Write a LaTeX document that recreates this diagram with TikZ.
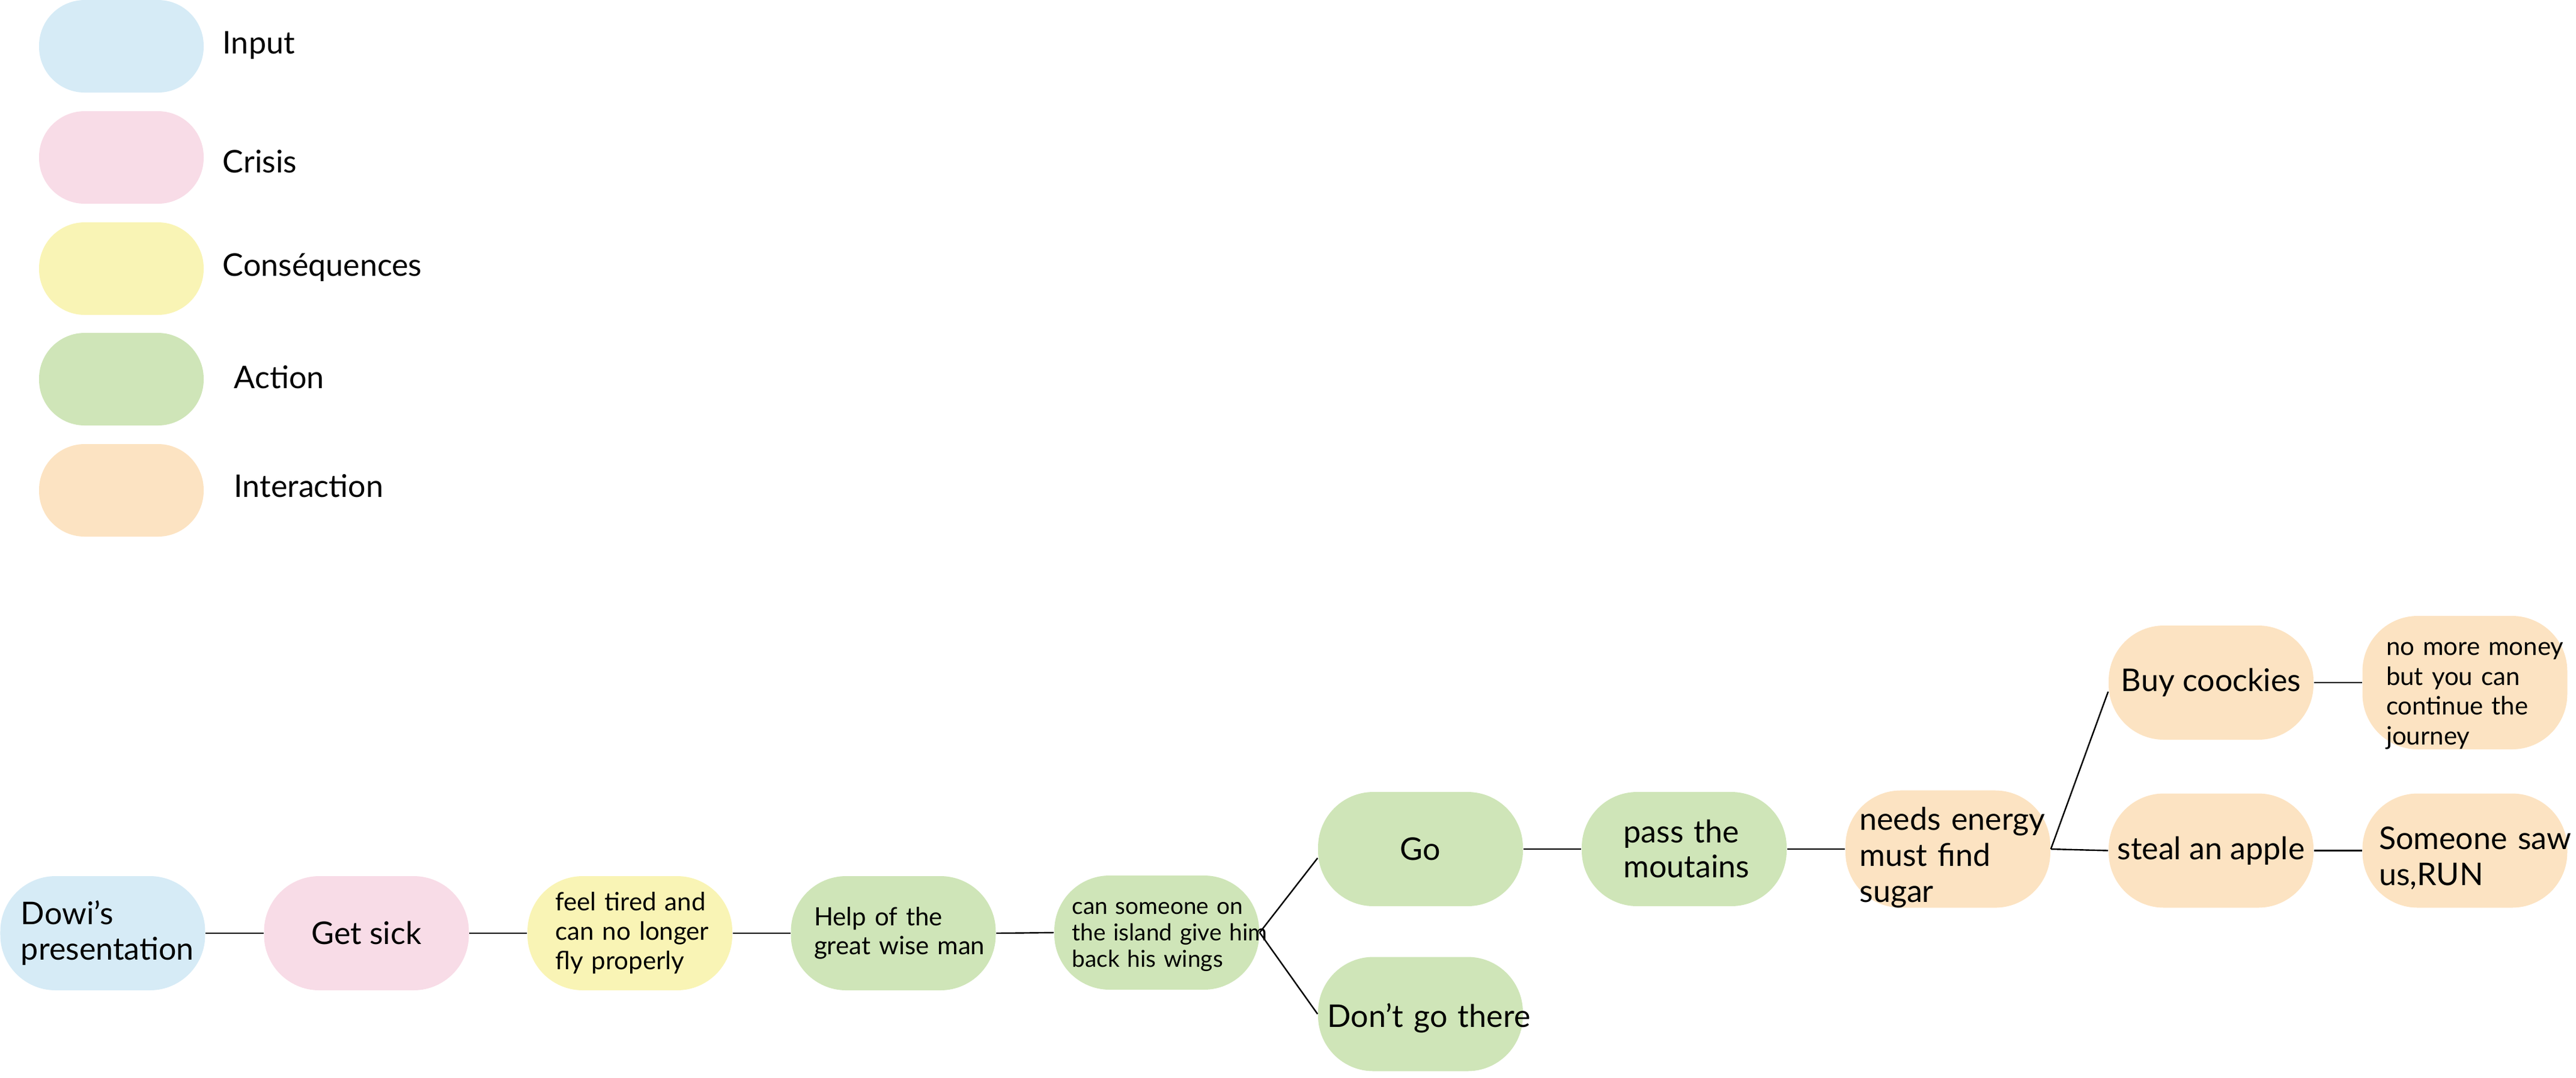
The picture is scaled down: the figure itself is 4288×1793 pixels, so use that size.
\documentclass[tikz,border=0pt]{standalone}
\usepackage{fontspec}
\setmainfont{Lato}
\definecolor{cin}{HTML}{D6EBF6}
\definecolor{ccr}{HTML}{F8DCE7}
\definecolor{ccs}{HTML}{F9F4B5}
\definecolor{cac}{HTML}{CFE5B8}
\definecolor{cit}{HTML}{FCE3C2}
\newcommand\fleg{\fontsize{13pt}{15pt}\selectfont}
\newcommand\fbig{\fontsize{13pt}{14.75pt}\selectfont}
\newcommand\fbigb{\fontsize{13pt}{14.5pt}\selectfont}
\newcommand\fbigc{\fontsize{13pt}{15pt}\selectfont}
\newcommand\fmed{\fontsize{10.5pt}{12.25pt}\selectfont}
\newcommand\fmedb{\fontsize{10.5pt}{12pt}\selectfont}
\newcommand\fmedc{\fontsize{10.5pt}{12.4pt}\selectfont}
\newcommand\fsml{\fontsize{9.7pt}{11pt}\selectfont}
\newcommand\mline[1]{\mbox{#1}}
\newcommand\pushdown[1]{\rule{0pt}{#1}}
\tikzset{
  legbox/.style={rectangle, rounded corners=19pt, minimum width=68.5pt, minimum height=38.5pt, inner sep=0pt},
  bx/.style={rectangle, rounded corners=23pt, minimum width=85.25pt, minimum height=47.5pt, inner sep=0pt, align=left},
  legtxt/.style={anchor=base west, font=\fleg, inner sep=0pt},
  link/.style={draw=black, line width=0.6pt},
}
\begin{document}
\begin{tikzpicture}[x=0.25pt,y=-0.25pt]
\useasboundingbox (0,0) rectangle (4288,1793);
% legend
\node[legbox, fill=cin] (lin) at (202,77) {};
\node[legbox, fill=ccr] (lcr) at (202,262) {};
\node[legbox, fill=ccs] (lcs) at (202,447) {};
\node[legbox, fill=cac] (lac) at (202,631) {};
\node[legbox, fill=cit] (lit) at (202,816) {};
\node[legtxt] (tin) at (370,89) {Input};
\node[legtxt] (tcr) at (370,287) {Crisis};
\node[legtxt] (tcs) at (370,459) {Conséquences};
\node[legtxt] (tac) at (389,646) {Action};
\node[legtxt] (tit) at (389,827) {Interaction};
% main row
\node[bx, fill=cin, font=\fbig, text width=68pt] (dowi) at (171,1553) {\mline{Dowi’s}\\\mline{presentation}};
\node[bx, fill=ccr, font=\fbig, align=center] (sick) at (610,1553) {Get sick};
\node[bx, fill=ccs, font=\fmed, text width=62pt] (feel) at (1048.5,1553) {\mline{feel tired and}\\\mline{can no longer}\\\mline{fly properly}};
\node[bx, fill=cac, font=\fmedb, text width=66pt] (help) at (1487,1553) {\mline{Help of the}\\\mline{great wise man}};
\node[bx, fill=cac, font=\fsml, text width=70.5pt] (cs) at (1925.5,1552) {\mline{\pushdown{8.3pt}can someone on}\\\mline{the island give him}\\\mline{back his wings}};
\node[bx, fill=cac, font=\fbig, align=center] (go) at (2364.5,1413) {Go};
\node[bx, fill=cac, font=\fbigb, text width=50.5pt] (pass) at (2803.5,1413) {\mline{pass the}\\\mline{moutains}};
\node[bx, fill=cit, font=\fbigc, text width=73.5pt] (needs) at (3242.5,1413) {\mline{\pushdown{16.4pt}needs energy}\\\mline{must find}\\\mline{sugar}};
\node[bx, fill=cac, font=\fbig, text width=77.5pt] (dont) at (2364.5,1687.5) {\mline{\pushdown{13.6pt}Don’t go there}};
\node[bx, fill=cit, font=\fbig, align=center] (buy) at (3680.5,1136) {Buy coockies};
\node[bx, fill=cit, font=\fmedc, text width=65.5pt] (more) at (4103,1136) {\mline{\pushdown{16.4pt}no more money}\\\mline{but you can}\\\mline{continue the}\\\mline{journey}};
\node[bx, fill=cit, font=\fbig, align=center] (steal) at (3680.5,1415.5) {steal an apple};
\node[bx, fill=cit, font=\fbigc, text width=71.5pt] (saw) at (4103,1415.5) {\mline{\pushdown{15.5pt}Someone saw}\\\mline{us,RUN}};
% connectors
\draw[link] (dowi.east) -- (sick.west);
\draw[link] (sick.east) -- (feel.west);
\draw[link] (feel.east) -- (help.west);
\draw[link] (help.east) -- (cs.west);
\draw[link] (cs.east) -- ([yshift=-3.75pt]go.west);
\draw[link] (cs.east) -- (dont.west);
\draw[link] (go.east) -- (pass.west);
\draw[link] (pass.east) -- (needs.west);
\draw[link] (needs.east) -- ([yshift=-3.75pt]buy.west);
\draw[link] (needs.east) -- (steal.west);
\draw[link] (buy.east) -- (more.west);
\draw[link] (steal.east) -- (saw.west);
\end{tikzpicture}
\end{document}
